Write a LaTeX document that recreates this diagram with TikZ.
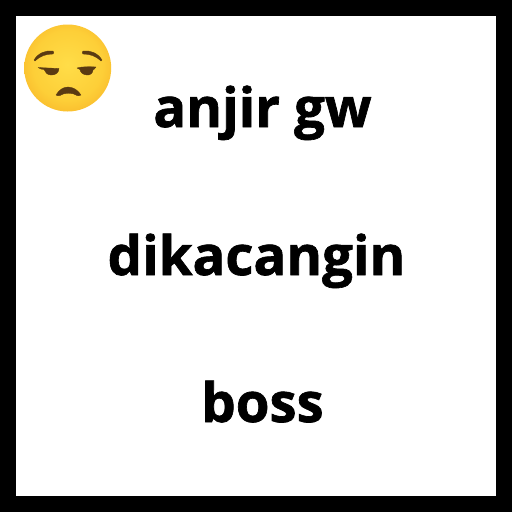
\documentclass[tikz,border=0pt]{standalone}
\usepackage{fontspec}
\setmainfont{Open Sans}[BoldFeatures={FakeBold=1.2}]
\definecolor{feat}{HTML}{5A3A12}
\definecolor{gA}{HTML}{FFDD48}
\definecolor{gB}{HTML}{FDCF38}
\definecolor{gC}{HTML}{F8B428}
\definecolor{gD}{HTML}{F0981A}
\definecolor{gE}{HTML}{EA8A12}
\pgfdeclareradialshading{facegrad}{\pgfpoint{0bp}{2bp}}{
 color(0bp)=(gA);
 color(20bp)=(gB);
 color(32bp)=(gC);
 color(41bp)=(gD);
 color(48bp)=(gE);
 color(100bp)=(gE)}
\tikzset{lbl/.style={font=\fontsize{54.5}{54.5}\selectfont\bfseries,text=black,anchor=base,inner sep=0pt},
feature/.style={fill=feat,draw=feat,line width=0.3pt,line join=round}}
\begin{document}
\begin{tikzpicture}[x=1pt,y=-1pt]
\useasboundingbox (0,0) rectangle (512,512);
\fill[black] (0,0) rectangle (512,512);
\fill[white] (16,16) rectangle (496,496);
\node[lbl] (a) at (262.5,127) {anjir gw};
\node[lbl] (b) at (256.5,275) {dikacangin};
\node[lbl] (c) at (262.5,422) {boss};
\shade[shading=facegrad] (67.7,68) circle (43.5);
% brows
\fill[feature] (34,60) .. controls (38,53) and (46,50) .. (53,51) .. controls (54,52) and (54,53) .. (53,54) .. controls (46,54) and (40,56) .. (35,61) -- cycle;
\fill[feature] (102,60) .. controls (98,53) and (90,50) .. (83,51) .. controls (82,52) and (82,53) .. (83,54) .. controls (90,54) and (96,56) .. (101,61) -- cycle;
% eyes
\fill[feature] (38,67.5) -- (59,68.5) .. controls (59,72) and (56,75.5) .. (51,75) .. controls (47,75) and (45,72) .. (44,69.5) .. controls (42,69.5) and (40,69) .. (38,67.5) -- cycle;
\fill[feature] (77,68) .. controls (82,66.5) and (90,66.5) .. (96,67) .. controls (95,68.5) and (94,69.5) .. (93,70) .. controls (93,73) and (90,75.5) .. (87,75) .. controls (83,75) and (80,72) .. (80,69.5) .. controls (79,69.5) and (78,69) .. (77,68) -- cycle;
% mouth
\fill[feature] (56,95) .. controls (59,90) and (63,87) .. (68,87) .. controls (73,87) and (78,90) .. (81,95) .. controls (79,96) and (78,96) .. (77,95.5) .. controls (73,92.5) and (64,92.5) .. (60,95.5) .. controls (59,96) and (57,96) .. (56,95) -- cycle;
\end{tikzpicture}
\end{document}
